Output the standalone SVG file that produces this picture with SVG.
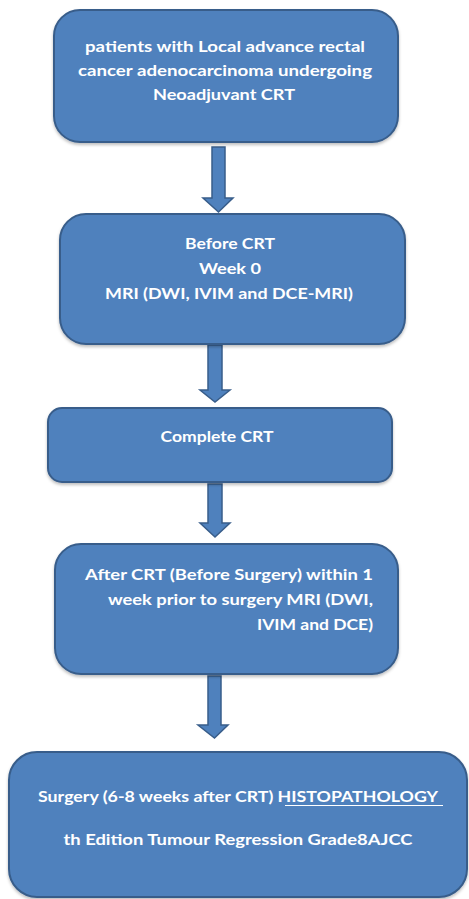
<svg xmlns="http://www.w3.org/2000/svg" width="469" height="899" viewBox="0 0 469 899">
<defs>
<filter id="sh" x="-5%" y="-5%" width="110%" height="115%"><feDropShadow dx="0" dy="2" stdDeviation="1.5" flood-color="#000" flood-opacity="0.25"/></filter>
</defs>
<style>
.box{fill:#4F81BD;stroke:#385D8A;stroke-width:2;filter:url(#sh)}
.arr{fill:#4F81BD;stroke:#385D8A;stroke-width:1.5}
text{font-family:Lato,"Open Sans","Liberation Sans",sans-serif;font-weight:bold;font-size:16px;fill:#fff}
.c{text-anchor:middle}
.r{text-anchor:end}
</style>
<rect width="469" height="899" fill="#fff"/>
<g id="connectors">
<polygon class="arr" points="212,147 225,147 225,198 233,198 218.5,212 203,198 212,198"/>
<polygon class="arr" points="208,345 222,345 222,390 230,390 215,402 200,390 208,390"/>
<polygon class="arr" points="208,484 222,484 222,523 230,523 215,537 200,523 208,523"/>
<polygon class="arr" points="208,676 221,676 221,725 228,725 214.5,738 198,725 208,725"/>
</g>
<g id="n1">
<rect class="box" x="54" y="10" width="344" height="132" rx="26"/>
<text class="c" x="225" y="52" textLength="280" lengthAdjust="spacingAndGlyphs">patients with Local advance rectal</text>
<text class="c" x="225" y="76" textLength="294" lengthAdjust="spacingAndGlyphs">cancer adenocarcinoma undergoing</text>
<text class="c" x="224" y="100" textLength="142" lengthAdjust="spacingAndGlyphs">Neoadjuvant CRT</text>
</g>
<g id="n2">
<rect class="box" x="60" y="214" width="345" height="130" rx="26"/>
<text class="c" x="230" y="249" textLength="90" lengthAdjust="spacingAndGlyphs">Before CRT</text>
<text class="c" x="230" y="274" textLength="62" lengthAdjust="spacingAndGlyphs">Week 0</text>
<text class="c" x="229" y="299" textLength="248" lengthAdjust="spacingAndGlyphs">MRI (DWI, IVIM and DCE-MRI)</text>
</g>
<g id="n3">
<rect class="box" x="48" y="408" width="344" height="74" rx="14"/>
<text class="c" x="217" y="442" textLength="113" lengthAdjust="spacingAndGlyphs">Complete CRT</text>
</g>
<g id="n4">
<rect class="box" x="55" y="544" width="343" height="130" rx="26"/>
<text class="r" x="373" y="580" textLength="288" lengthAdjust="spacingAndGlyphs">After CRT (Before Surgery) within 1</text>
<text class="r" x="373" y="605" textLength="265" lengthAdjust="spacingAndGlyphs">week prior to surgery MRI (DWI,</text>
<text class="r" x="373" y="630" textLength="116" lengthAdjust="spacingAndGlyphs">IVIM and DCE)</text>
</g>
<g id="n5">
<rect class="box" x="9" y="752" width="458" height="145" rx="28"/>
<text x="38" y="802" textLength="400" lengthAdjust="spacingAndGlyphs">Surgery (6-8 weeks after CRT) HISTOPATHOLOGY</text>
<line x1="285" y1="805.5" x2="443" y2="805.5" stroke="#fff" stroke-width="1.2"/>
<text class="c" x="238" y="845" textLength="349" lengthAdjust="spacingAndGlyphs">th Edition Tumour Regression Grade8AJCC</text>
</g>
</svg>
